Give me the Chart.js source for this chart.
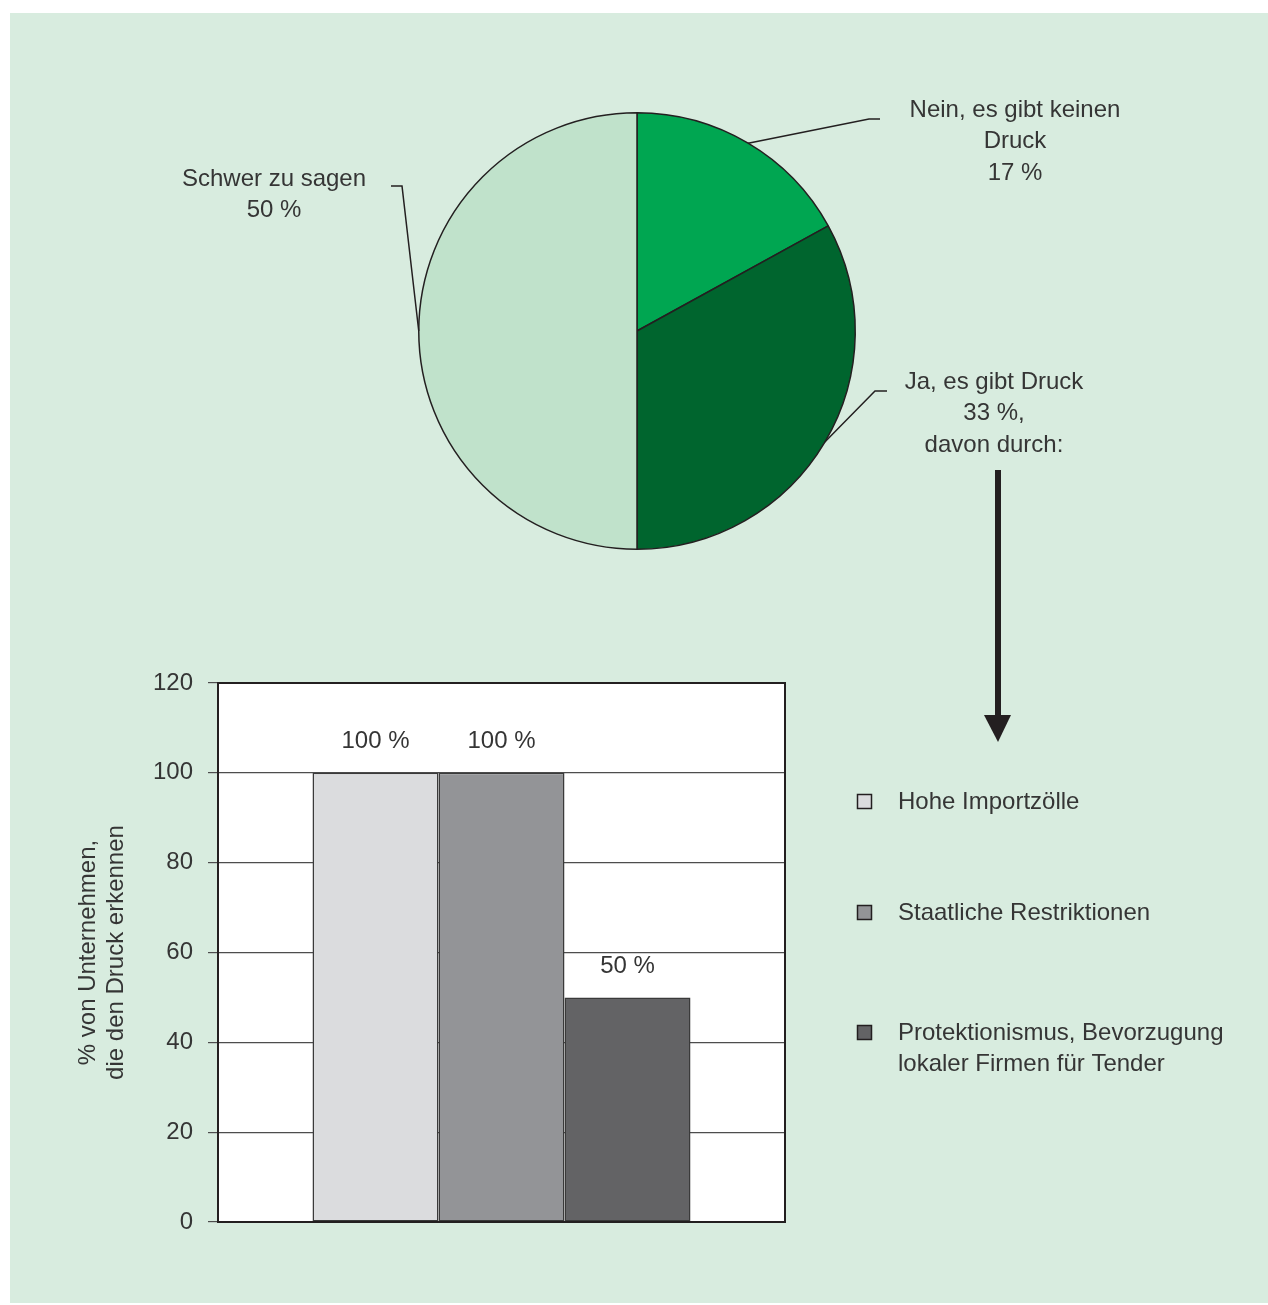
<!DOCTYPE html>
<html lang="de">
<head>
<meta charset="utf-8">
<title>Druck auf Unternehmen</title>
<script src="https://cdn.jsdelivr.net/npm/chart.js@4.4.1/dist/chart.umd.min.js"></script>
<style>
  html, body { margin: 0; padding: 0; background: #ffffff; }
  #page { position: relative; width: 1268px; height: 1305px; }
  #panel { position: absolute; left: 10px; top: 13px; width: 1258px; height: 1290px; background: #d8ecdf; }
  canvas { position: absolute; }
  #pieChart { left: 10px; top: 13px; }
  #barChart { left: 10px; top: 633px; }
</style>
</head>
<body>
<div id="page">
  <div id="panel"></div>
  <canvas id="barChart" width="1258" height="670"></canvas>
  <canvas id="pieChart" width="1258" height="750"></canvas>
</div>
<script>
// Gibt es Druck auf das Unternehmen?
const pieLabels = [['Nein, es gibt keinen', 'Druck'], ['Ja, es gibt Druck'], ['Schwer zu sagen']];
const pieShares = [17, 33, 50];
const pieNotes = ['', 'davon durch:', ''];
const pieColors = ['#00a651', '#00652e', '#c0e2cb'];

// davon durch ...
const causes = ['Hohe Importzölle', 'Staatliche Restriktionen', ['Protektionismus, Bevorzugung', 'lokaler Firmen für Tender']];
const causeShares = [100, 100, 50];
const causeColors = ['#dbdcde', '#939497', '#636365'];
const yTicks = [0, 20, 40, 60, 80, 100, 120];

const FONT = "'Liberation Sans', Arial, sans-serif";
const TEXT = '#353535';
const INK = '#231f20';

Chart.defaults.font.family = FONT;
Chart.defaults.color = TEXT;

// callout layout for the pie, page coordinates (canvas sits at 10,13)
const PIE_LEFT = 10, PIE_TOP = 13;
const callouts = [
  { elbow: [869, 119], end: [880, 119], text: [1015, 110] },
  { elbow: [875, 391], end: [887, 391], text: [994, 382] },
  { elbow: [402, 186], end: [391, 186], text: [274, 179] }
];

const pieCallouts = {
  id: 'pieCallouts',
  afterDraw(chart) {
    const ctx = chart.ctx;
    const meta = chart.getDatasetMeta(0);
    const values = chart.data.datasets[0].data;
    ctx.save();
    ctx.strokeStyle = INK;
    ctx.lineWidth = 1.5;
    ctx.fillStyle = TEXT;
    ctx.font = '24px ' + FONT;
    ctx.textAlign = 'center';
    ctx.textBaseline = 'middle';
    meta.data.forEach((arc, i) => {
      const c = callouts[i];
      const mid = (arc.startAngle + arc.endAngle) / 2;
      const px = arc.x + Math.cos(mid) * arc.outerRadius;
      const py = arc.y + Math.sin(mid) * arc.outerRadius;
      ctx.beginPath();
      ctx.moveTo(px, py);
      ctx.lineTo(c.elbow[0] - PIE_LEFT, c.elbow[1] - PIE_TOP);
      ctx.lineTo(c.end[0] - PIE_LEFT, c.end[1] - PIE_TOP);
      ctx.stroke();

      const lines = pieLabels[i].slice();
      lines.push(values[i] + ' %' + (pieNotes[i] ? ',' : ''));
      if (pieNotes[i]) lines.push(pieNotes[i]);
      lines.forEach((t, k) => {
        ctx.fillText(t, c.text[0] - PIE_LEFT, c.text[1] - PIE_TOP + k * 31.5);
      });
    });

    // arrow from "davon durch" down to the breakdown
    const ax = 998 - PIE_LEFT;
    ctx.fillStyle = INK;
    ctx.fillRect(ax - 3, 470 - PIE_TOP, 6, 248);
    ctx.beginPath();
    ctx.moveTo(ax - 14, 715 - PIE_TOP);
    ctx.lineTo(ax + 13, 715 - PIE_TOP);
    ctx.lineTo(ax, 742 - PIE_TOP);
    ctx.closePath();
    ctx.fill();
    ctx.restore();
  }
};

new Chart(document.getElementById('pieChart'), {
  type: 'pie',
  data: {
    labels: pieLabels.map(l => l.join(' ')),
    datasets: [{
      data: pieShares,
      backgroundColor: pieColors,
      borderColor: INK,
      borderWidth: 1.5
    }]
  },
  options: {
    responsive: false,
    devicePixelRatio: 1,
    animation: false,
    layout: { padding: { left: 408, right: 412, top: 99, bottom: 213 } },
    plugins: { legend: { display: false }, tooltip: { enabled: false } }
  },
  plugins: [pieCallouts]
});

// bar chart helpers
const BAR_TOP = 633;
const legendRows = [802, 913, 1033];

const plotFrame = {
  id: 'plotFrame',
  beforeDraw(chart) {
    const { ctx, chartArea: a } = chart;
    ctx.save();
    ctx.fillStyle = '#ffffff';
    ctx.fillRect(a.left, a.top, a.right - a.left, a.bottom - a.top);
    ctx.restore();
  },
  afterDraw(chart) {
    const { ctx, chartArea: a } = chart;
    ctx.save();
    ctx.strokeStyle = INK;
    ctx.lineWidth = 2;
    ctx.strokeRect(a.left, a.top, a.right - a.left, a.bottom - a.top);
    ctx.restore();
  }
};

const barValues = {
  id: 'barValues',
  afterDatasetsDraw(chart) {
    const ctx = chart.ctx;
    ctx.save();
    ctx.fillStyle = TEXT;
    ctx.font = '24px ' + FONT;
    ctx.textAlign = 'center';
    ctx.textBaseline = 'middle';
    chart.data.datasets.forEach((ds, i) => {
      const bar = chart.getDatasetMeta(i).data[0];
      ctx.fillText(ds.data[0] + ' %', bar.x, bar.y - 31);
    });
    ctx.restore();
  }
};

const sideLegend = {
  id: 'sideLegend',
  afterDraw(chart) {
    const ctx = chart.ctx;
    ctx.save();
    ctx.font = '24px ' + FONT;
    ctx.textAlign = 'left';
    ctx.textBaseline = 'middle';
    chart.data.datasets.forEach((ds, i) => {
      const y = legendRows[i] - BAR_TOP;
      ctx.fillStyle = ds.backgroundColor;
      ctx.fillRect(847.5, y - 7.5, 14, 14);
      ctx.strokeStyle = INK;
      ctx.lineWidth = 1.5;
      ctx.strokeRect(847.5, y - 7.5, 14, 14);
      ctx.fillStyle = TEXT;
      const lines = Array.isArray(ds.label) ? ds.label : [ds.label];
      lines.forEach((t, k) => ctx.fillText(t, 888, y + k * 31.5));
    });
    ctx.restore();
  }
};

new Chart(document.getElementById('barChart'), {
  type: 'bar',
  data: {
    labels: [''],
    datasets: causes.map((label, i) => ({
      label: label,
      data: [causeShares[i]],
      backgroundColor: causeColors[i],
      borderColor: '#3a3a3a',
      borderWidth: 1.5,
      borderSkipped: false
    }))
  },
  options: {
    responsive: false,
    devicePixelRatio: 1,
    animation: false,
    categoryPercentage: 378 / 567,
    barPercentage: 1,
    layout: { padding: { left: 0, right: 483, top: 50, bottom: 81 } },
    scales: {
      x: { display: false },
      y: {
        min: 0,
        max: 120,
        afterBuildTicks(scale) { scale.ticks = yTicks.map(v => ({ value: v })); },
        afterFit(scale) { scale.width = 208; },
        ticks: { padding: 15, color: TEXT, font: { size: 24 } },
        grid: { color: '#4d4d4d', lineWidth: 1.2, tickLength: 10, tickColor: '#4d4d4d' },
        border: { display: true, color: INK, width: 2 },
        title: {
          display: true,
          text: ['% von Unternehmen,', 'die den Druck erkennen'],
          color: TEXT,
          font: { size: 24, lineHeight: 1.2 },
          padding: { top: 63.6, bottom: 0 }
        }
      }
    },
    plugins: { legend: { display: false }, tooltip: { enabled: false } }
  },
  plugins: [plotFrame, barValues, sideLegend]
});
</script>
</body>
</html>
